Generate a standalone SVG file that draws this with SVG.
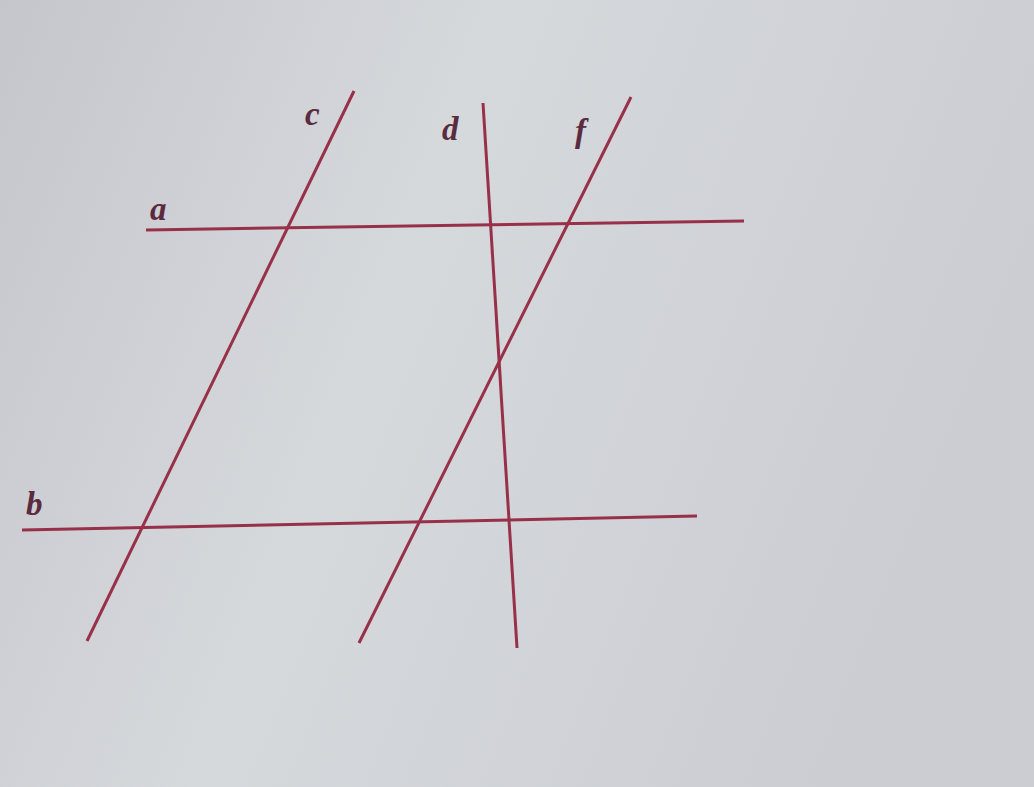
<svg xmlns="http://www.w3.org/2000/svg" width="1034" height="787" viewBox="0 0 1034 787">
<defs>
<linearGradient id="bg" x1="0" y1="0" x2="1" y2="0.3">
<stop offset="0" stop-color="#c5c6cc"/>
<stop offset="0.45" stop-color="#d6d9dc"/>
<stop offset="1" stop-color="#cbcdd2"/>
</linearGradient>
<style>
.ln{stroke:#98304a;stroke-width:3;fill:none;stroke-linecap:butt}
.lb{font-family:"Liberation Serif",serif;font-style:italic;font-weight:bold;font-size:33px;fill:#5a2a3e}
</style>
</defs>
<rect width="1034" height="787" fill="url(#bg)"/>
<g id="connectors">
<line id="line-a" class="ln" x1="146" y1="230" x2="744" y2="221"/>
<line id="line-b" class="ln" x1="22" y1="530" x2="697" y2="516"/>
<line id="line-c" class="ln" x1="87" y1="641" x2="354" y2="91"/>
<line id="line-d" class="ln" x1="483" y1="103" x2="517" y2="648"/>
<line id="line-f" class="ln" x1="359" y1="643" x2="631" y2="97"/>
</g>
<g id="labels">
<text class="lb" x="305" y="125">c</text>
<text class="lb" x="442" y="140">d</text>
<text class="lb" x="575" y="142">f</text>
<text class="lb" x="150" y="220">a</text>
<text class="lb" x="26" y="515">b</text>
</g>
</svg>
